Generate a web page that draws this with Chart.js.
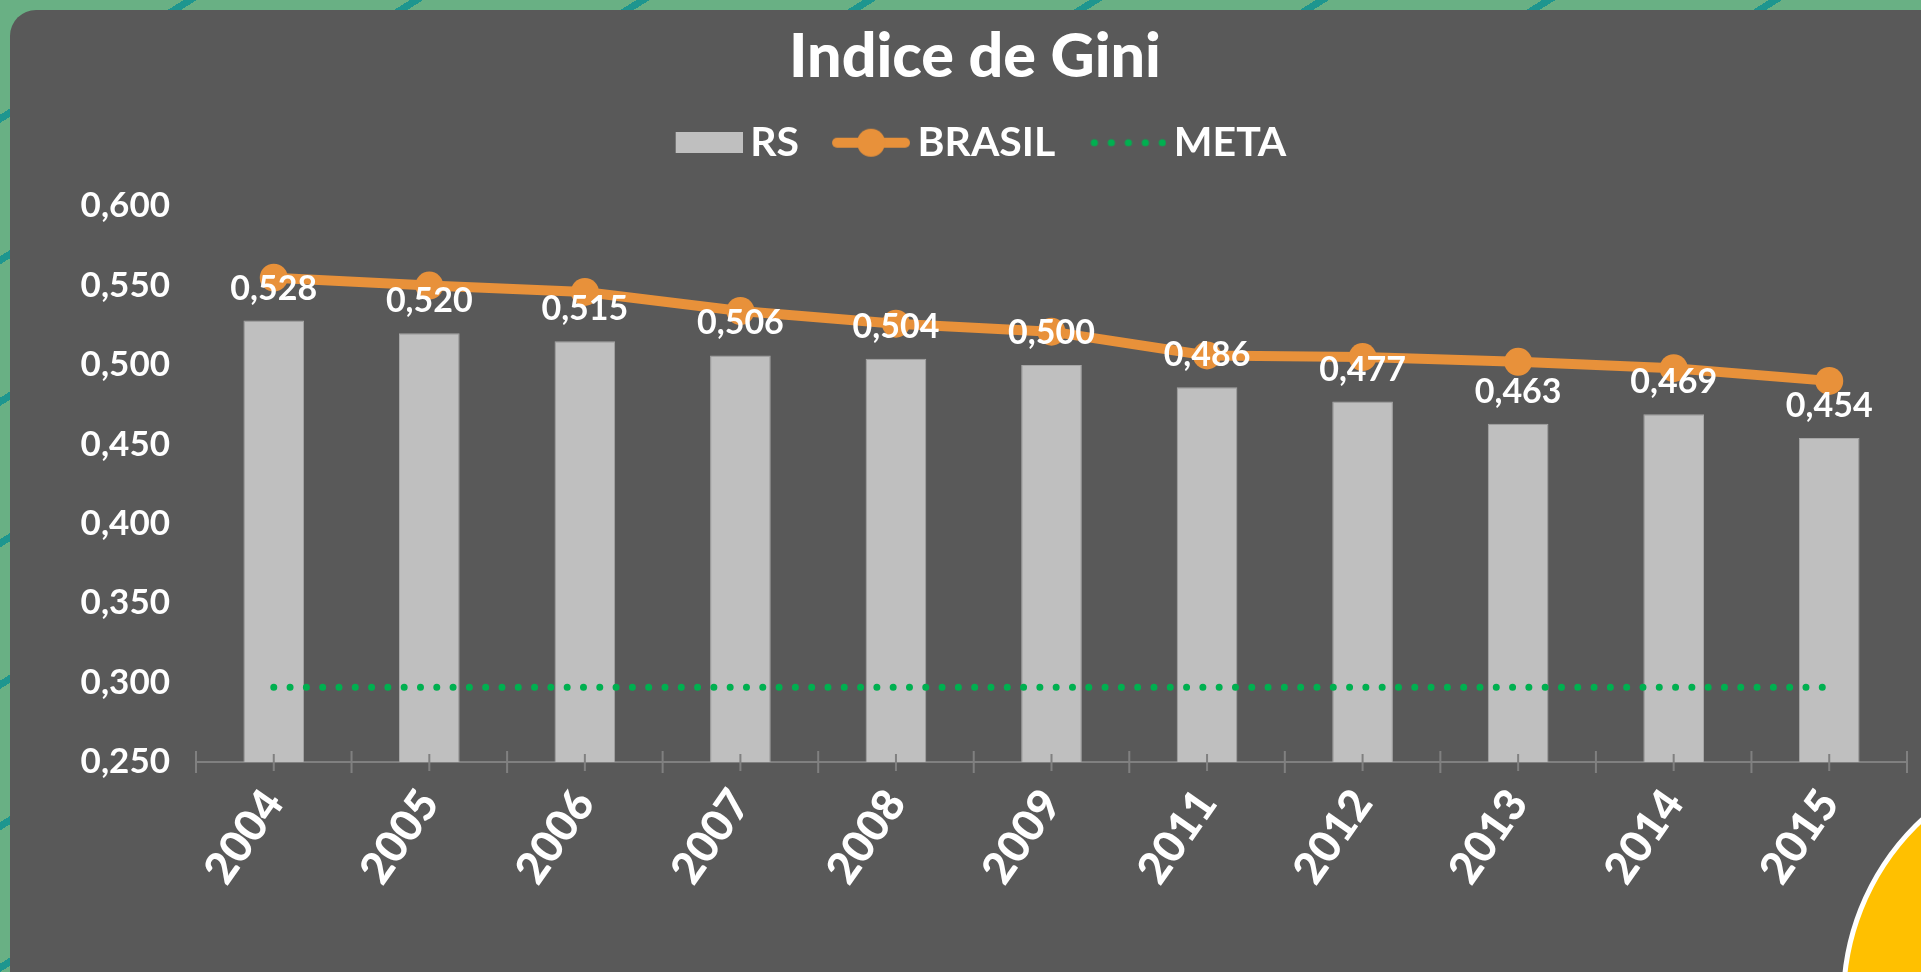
<!DOCTYPE html>
<html lang="pt-BR">
<head>
<meta charset="utf-8">
<title>Indice de Gini</title>
<script src="https://cdn.jsdelivr.net/npm/chart.js@4.4.0/dist/chart.umd.min.js"></script>
<style>
  html, body { margin: 0; padding: 0; }
  body {
    width: 1921px; height: 972px; overflow: hidden; position: relative;
    background-color: #69b084;
    background-image: repeating-linear-gradient(-32deg, transparent 0 58px, #1e968f 58px 65px, transparent 65px 120px);
  }
  #card { position: absolute; left: 10px; top: 10px; width: 1960px; height: 1010px; background: #595959; border-radius: 26px; }
  #wrap { position: absolute; left: 10px; top: 10px; width: 1911px; height: 962px; }
  #sun { position: absolute; left: 1841px; top: 751px; width: 498px; height: 498px; border-radius: 50%;
         background: #ffc000; border: 5px solid #fff; box-sizing: border-box; }
</style>
</head>
<body>
<div id="card"></div>
<div id="wrap"><canvas id="gini"></canvas></div>
<div id="sun"></div>
<script>
// ─── Data ───
const YEARS  = ['2004', '2005', '2006', '2007', '2008', '2009', '2011', '2012', '2013', '2014', '2015'];
const RS     = [0.528, 0.520, 0.515, 0.506, 0.504, 0.500, 0.486, 0.477, 0.463, 0.469, 0.454];
const BRASIL = [0.555, 0.550, 0.546, 0.534, 0.526, 0.521, 0.506, 0.505, 0.502, 0.498, 0.490];
const META   = [0.297, 0.297, 0.297, 0.297, 0.297, 0.297, 0.297, 0.297, 0.297, 0.297, 0.297];
const Y_MIN = 0.25, Y_MAX = 0.6, Y_STEP = 0.05;

const COLORS = {
    bar: '#bfbfbf',
    barEdge: '#a6a6a6',
    brasil: '#e8913a',
    meta: '#00b050',
    axis: '#808080',
    text: '#ffffff',
};
const FONT = 'Lato, "Open Sans", sans-serif';

const fmt = v => v.toFixed(3).replace('.', ',');

// ─── Legend icons (canvases used as point styles, drawn right-aligned) ───
const ICON_W = 92;
function legendIcon(kind) {
    const c = document.createElement('canvas');
    const g = c.getContext('2d');
    c.width = ICON_W;
    if (kind === 'rs') {
        c.height = 21;
        g.fillStyle = COLORS.bar;
        g.fillRect(ICON_W - 67, 0, 67, 21);
    } else if (kind === 'brasil') {
        c.height = 30;
        const x0 = ICON_W - 78;
        g.strokeStyle = COLORS.brasil;
        g.lineWidth = 10;
        g.lineCap = 'round';
        g.beginPath(); g.moveTo(x0 + 5, 15); g.lineTo(x0 + 73, 15); g.stroke();
        g.fillStyle = COLORS.brasil;
        g.beginPath(); g.arc(x0 + 39, 15, 14, 0, Math.PI * 2); g.fill();
    } else {
        c.height = 10;
        const x0 = ICON_W - 76;
        g.fillStyle = COLORS.meta;
        for (let i = 0; i < 5; i++) {
            g.beginPath(); g.arc(x0 + 4 + i * 17, 5, 3.6, 0, Math.PI * 2); g.fill();
        }
    }
    return c;
}
const ICONS = [legendIcon('rs'), legendIcon('brasil'), legendIcon('meta')];

// ─── Plugins ───
const legendSpacing = {
    id: 'legendSpacing',
    beforeInit(chart) {
        const fit = chart.legend.fit;
        chart.legend.fit = function () {
            fit.bind(chart.legend)();
            this.height = 116;
        };
    }
};

const axisTicks = {
    id: 'axisTicks',
    afterDatasetsDraw(chart) {
        const { ctx, chartArea } = chart;
        const x = chart.scales.x;
        const y0 = chartArea.bottom;
        const half = (x.getPixelForValue(1) - x.getPixelForValue(0)) / 2;
        ctx.save();
        ctx.strokeStyle = COLORS.axis;
        ctx.lineWidth = 2;
        ctx.beginPath();
        YEARS.forEach((_, i) => {
            const cx = x.getPixelForValue(i);
            ctx.moveTo(cx, y0 - 8); ctx.lineTo(cx, y0 + 9);
            ctx.moveTo(cx - half, y0 - 11); ctx.lineTo(cx - half, y0 + 11);
            if (i === YEARS.length - 1) { ctx.moveTo(cx + half, y0 - 11); ctx.lineTo(cx + half, y0 + 11); }
        });
        ctx.stroke();
        ctx.restore();
    }
};

const valueLabels = {
    id: 'valueLabels',
    afterDatasetsDraw(chart) {
        const { ctx } = chart;
        const meta = chart.getDatasetMeta(0);
        ctx.save();
        ctx.font = `700 34px ${FONT}`;
        ctx.fillStyle = COLORS.text;
        ctx.textAlign = 'center';
        ctx.textBaseline = 'alphabetic';
        meta.data.forEach((bar, i) => ctx.fillText(fmt(RS[i]), bar.x, bar.y - 21));
        ctx.restore();
    }
};

// ─── Chart ───
Chart.defaults.font.family = FONT;
Chart.defaults.color = COLORS.text;

new Chart(document.getElementById('gini'), {
    type: 'bar',
    data: {
        labels: YEARS,
        datasets: [
            {
                type: 'bar', label: 'RS', data: RS, order: 3,
                backgroundColor: COLORS.bar, borderColor: COLORS.barEdge, borderWidth: 1,
                categoryPercentage: 1, barPercentage: 0.39,
            },
            {
                type: 'line', label: 'BRASIL', data: BRASIL, order: 1,
                borderColor: COLORS.brasil, borderWidth: 10, tension: 0,
                pointRadius: 14, pointBackgroundColor: COLORS.brasil, pointBorderWidth: 0,
            },
            {
                type: 'line', label: 'META', data: META, order: 2,
                borderColor: COLORS.meta, borderWidth: 7, borderDash: [0, 16.3], borderCapStyle: 'round',
                pointRadius: 0, tension: 0,
            },
        ]
    },
    options: {
        responsive: true,
        maintainAspectRatio: false,
        animation: false,
        layout: { padding: { left: 33, right: 14, top: 0, bottom: 0 } },
        plugins: {
            title: {
                display: true, text: 'Indice de Gini', color: COLORS.text,
                font: { size: 61, weight: '900' },
                padding: { top: 11, bottom: -4 },
            },
            legend: {
                position: 'top',
                labels: {
                    color: COLORS.text,
                    font: { size: 41, weight: '700' },
                    usePointStyle: true,
                    pointStyleWidth: 66,
                    padding: 32,
                    sort: (a, b) => a.datasetIndex - b.datasetIndex,
                    generateLabels(chart) {
                        const items = Chart.defaults.plugins.legend.labels.generateLabels(chart);
                        return items.map(it => ({ ...it, pointStyle: ICONS[it.datasetIndex] }));
                    }
                }
            },
            tooltip: { enabled: false },
        },
        scales: {
            x: {
                grid: { display: false, drawTicks: false },
                border: { display: true, color: COLORS.axis, width: 2 },
                ticks: { color: COLORS.text, font: { size: 44, weight: '900' }, minRotation: 55, maxRotation: 55, padding: 18 },
                afterFit(scale) { scale.height = 210; },
            },
            y: {
                min: Y_MIN, max: Y_MAX,
                grid: { display: false, drawTicks: false },
                border: { display: false },
                ticks: { stepSize: Y_STEP, color: COLORS.text, font: { size: 35, weight: '700' }, padding: 26,
                         callback: v => fmt(v) },
                afterFit(scale) { scale.width = 153; },
            }
        }
    },
    plugins: [legendSpacing, axisTicks, valueLabels]
});
</script>
</body>
</html>
